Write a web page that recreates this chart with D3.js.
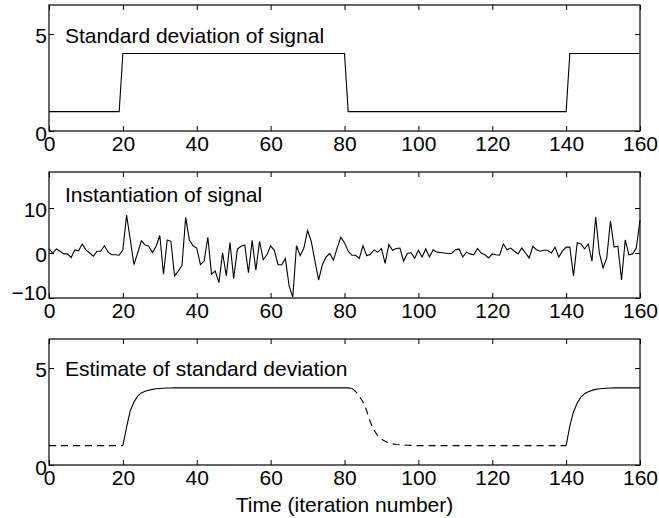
<!DOCTYPE html>
<html>
<head>
<meta charset="utf-8">
<script src="https://cdn.jsdelivr.net/npm/d3@7"></script>
<style>
  body { margin: 0; background: #fff; }
  svg text { font-family: "Liberation Sans", Arial, Helvetica, sans-serif; fill: #000; }
</style>
</head>
<body>
<svg id="chart" width="659" height="518"></svg>
<script>
// time steps 0..160
const time = d3.range(0, 161);

// true standard deviation of the signal
const trueSd = [
  1, 1, 1, 1, 1, 1, 1, 1, 1, 1, 1, 1, 1, 1, 1, 1, 1, 1, 1, 1,
  4, 4, 4, 4, 4, 4, 4, 4, 4, 4, 4, 4, 4, 4, 4, 4, 4, 4, 4, 4,
  4, 4, 4, 4, 4, 4, 4, 4, 4, 4, 4, 4, 4, 4, 4, 4, 4, 4, 4, 4,
  4, 4, 4, 4, 4, 4, 4, 4, 4, 4, 4, 4, 4, 4, 4, 4, 4, 4, 4, 4,
  4, 1, 1, 1, 1, 1, 1, 1, 1, 1, 1, 1, 1, 1, 1, 1, 1, 1, 1, 1,
  1, 1, 1, 1, 1, 1, 1, 1, 1, 1, 1, 1, 1, 1, 1, 1, 1, 1, 1, 1,
  1, 1, 1, 1, 1, 1, 1, 1, 1, 1, 1, 1, 1, 1, 1, 1, 1, 1, 1, 1,
  1, 4, 4, 4, 4, 4, 4, 4, 4, 4, 4, 4, 4, 4, 4, 4, 4, 4, 4, 4,
  4
];

// one instantiation of the signal
const signal = [
  0.9, 0, 0.9, 0.4, -0.2, -0.2, -1.0, 0.7, 0.5, 2.0,
  0.7, 0, -0.7, 0.4, 0.4, 1.6, 0.2, -0.4, -0.4, -0.5,
  0.7, 8.4, 3.0, -2.6, 0, 2.7, 1.8, 1.5, 0.1, 1.5,
  3.9, -4.7, 2.9, 2.6, -5.1, -4.0, -2.8, 7.9, 2.9, 1.6,
  1.1, -2.6, -1.8, 3.5, -4.7, -4.0, -6.6, 0, -5.1, 2.3,
  -5.7, 0.9, 1.5, 1.8, -4.4, 2.8, -3.8, 2.6, -1.5, -0.4,
  1.6, 0.6, -2.6, -2.6, -1.2, -7.3, -9.8, 1.6, -0.6, 1.1,
  5.0, 2.6, -1.8, -6.0, -2.6, -0.9, -0.1, -1.6, 1.1, 3.5,
  2.3, 0.4, -0.5, -0.5, -1.2, 1.6, -0.6, -0.3, 0.7, 0.2,
  1.0, -2.3, 1.9, 0.6, 1.0, 1.1, -1.8, -0.1, 0.1, -1.2,
  0.6, -0.9, 0.9, -0.9, 0.7, 0.2, 0.1, 0, -0.1, -0.1,
  0.7, 0.9, -0.9, 0.2, -0.2, -0.4, 1.0, 0, -0.4, -1.1,
  -0.2, -0.4, -0.5, 2.0, 0.7, 1.1, 0.4, -0.2, 1.1, 0,
  -1.1, 1.5, 0.7, 0.4, 0.6, 0.6, 0, 1.3, -0.9, 0.4,
  1.3, 1.3, -5.1, 2.3, 2.0, 0.9, 2.0, -1.8, 8.0, 0,
  -3.3, -1.1, 7.1, 1.3, 1.5, -6.0, 2.9, -0.4, -0.2, 1.1,
  7.3
];

// estimated standard deviation
const estimateSd = [
  1, 1, 1, 1, 1, 1, 1, 1, 1, 1, 1, 1, 1, 1, 1, 1, 1, 1, 1, 1,
  1.0, 1.95, 2.8, 3.25, 3.55, 3.72, 3.8, 3.86, 3.9, 3.93,
  3.95, 3.96, 3.97, 3.97, 3.98, 3.98, 3.98, 3.98, 3.98, 3.98,
  3.98, 3.98, 3.98, 3.98, 3.98, 3.98, 3.98, 3.98, 3.98, 3.98,
  3.98, 3.98, 3.98, 3.98, 3.98, 3.98, 3.98, 3.98, 3.98, 3.98,
  3.98, 3.98, 3.98, 3.98, 3.98, 3.98, 3.98, 3.98, 3.98, 3.98,
  3.98, 3.98, 3.98, 3.98, 3.98, 3.98, 3.98, 3.98, 3.98, 3.98,
  3.98, 3.98, 3.95, 3.8, 3.55, 3.25, 2.8, 2.2, 1.8, 1.5,
  1.33, 1.22, 1.14, 1.09, 1.06, 1.04, 1.03, 1.02, 1.01, 1.0,
  1, 1, 1, 1, 1, 1, 1, 1, 1, 1, 1, 1, 1, 1, 1, 1, 1, 1, 1, 1,
  1, 1, 1, 1, 1, 1, 1, 1, 1, 1, 1, 1, 1, 1, 1, 1, 1, 1, 1, 1,
  1.0, 2.0, 2.75, 3.2, 3.5, 3.68, 3.78, 3.85, 3.9, 3.93,
  3.95, 3.96, 3.97, 3.98, 3.98, 3.98, 3.98, 3.98, 3.98, 3.98,
  3.98
];

// which part of the estimate is solid / dashed
const estimateSegments = [
  { from: 0, to: 20, dashed: true },
  { from: 20, to: 82, dashed: false },
  { from: 82, to: 140, dashed: true },
  { from: 140, to: 160, dashed: false },
];

const xTicks = [0, 20, 40, 60, 80, 100, 120, 140, 160];
const titles = [
  "Standard deviation of signal",
  "Instantiation of signal",
  "Estimate of standard deviation",
];
const xLabel = "Time (iteration number)";

const svg = d3.select("#chart");
svg.append("rect").attr("width", 659).attr("height", 518).attr("fill", "#fff");

const left = 49;
const right = 640;
const panelH = 126;
const fontSize = 21;
const fmt = d3.format("d");

const x = d3.scaleLinear().domain([0, 160]).range([left, right]);

const drawPanel = ({ top, yDomain, yTicks, title, titleAt, segments, lowLabelShift = 1.5 }) => {
  const y = d3.scaleLinear().domain(yDomain).range([top + panelH, top]);
  const g = svg.append("g");

  const line = d3.line()
    .x((d) => x(d.t))
    .y((d) => y(d.v));

  segments.forEach((s) => {
    g.append("path")
      .datum(s.data)
      .attr("d", line)
      .attr("fill", "none")
      .attr("stroke", "#000")
      .attr("stroke-width", 1.1)
      .attr("stroke-dasharray", s.dashed ? "7,5" : null);
  });

  // ticks pointing inwards on all four sides
  const bottomAxis = g.append("g")
    .attr("transform", `translate(0,${top + panelH})`)
    .call(d3.axisBottom(x).tickValues(xTicks).tickFormat(fmt).tickSizeInner(-5).tickSizeOuter(0).tickPadding(5));
  g.append("g")
    .attr("transform", `translate(0,${top})`)
    .call(d3.axisTop(x).tickValues(xTicks).tickSizeInner(-5).tickSizeOuter(0).tickFormat(""));
  const leftAxis = g.append("g")
    .attr("transform", `translate(${left},0)`)
    .call(d3.axisLeft(y).tickValues(yTicks).tickFormat(fmt).tickSizeInner(-5).tickSizeOuter(0).tickPadding(2));
  g.append("g")
    .attr("transform", `translate(${right},0)`)
    .call(d3.axisRight(y).tickValues(yTicks).tickSizeInner(-5).tickSizeOuter(0).tickFormat(""));

  g.selectAll(".domain").remove();
  g.selectAll(".tick line").attr("stroke", "#000");
  [bottomAxis, leftAxis].forEach((a) =>
    a.selectAll("text")
      .style("font-size", `${fontSize}px`)
      .style("font-family", '"Liberation Sans", Arial, sans-serif')
      .attr("fill", "#000")
  );
  // the lowest y label sits a little off its tick in the original
  leftAxis.selectAll(".tick")
    .filter((d) => d === yTicks[0])
    .select("text")
    .attr("y", lowLabelShift);
  leftAxis.selectAll(".tick")
    .filter((d) => d !== yTicks[0])
    .select("text")
    .attr("y", 1.5);

  g.append("rect")
    .attr("x", left)
    .attr("y", top)
    .attr("width", right - left)
    .attr("height", panelH)
    .attr("fill", "none")
    .attr("stroke", "#000")
    .attr("stroke-width", 1.2);

  g.append("text")
    .attr("x", x(titleAt[0]))
    .attr("y", y(titleAt[1]))
    .style("font-size", `${fontSize}px`)
    .text(title);

  return y;
};

const toPoints = (vals) => time.map((t, i) => ({ t, v: vals[i] }));

drawPanel({
  top: 5,
  yDomain: [0, 6.5],
  yTicks: [0, 5],
  title: titles[0],
  titleAt: [4.3, 4.54],
  segments: [{ data: toPoints(trueSd), dashed: false }],
  lowLabelShift: 2.5,
});

drawPanel({
  top: 172,
  yDomain: [-10, 18],
  yTicks: [-10, 0, 10],
  title: titles[1],
  titleAt: [4.3, 11.3],
  segments: [{ data: toPoints(signal), dashed: false }],
  lowLabelShift: -5,
});

const est = toPoints(estimateSd);
drawPanel({
  top: 339,
  yDomain: [0, 6.5],
  yTicks: [0, 5],
  title: titles[2],
  titleAt: [4.3, 4.59],
  segments: estimateSegments.map((s) => ({
    data: est.filter((d) => d.t >= s.from && d.t <= s.to),
    dashed: s.dashed,
  })),
  lowLabelShift: 2.5,
});

svg.append("text")
  .attr("x", (left + right) / 2)
  .attr("y", 512)
  .attr("text-anchor", "middle")
  .style("font-size", `${fontSize}px`)
  .text(xLabel);
</script>
</body>
</html>
